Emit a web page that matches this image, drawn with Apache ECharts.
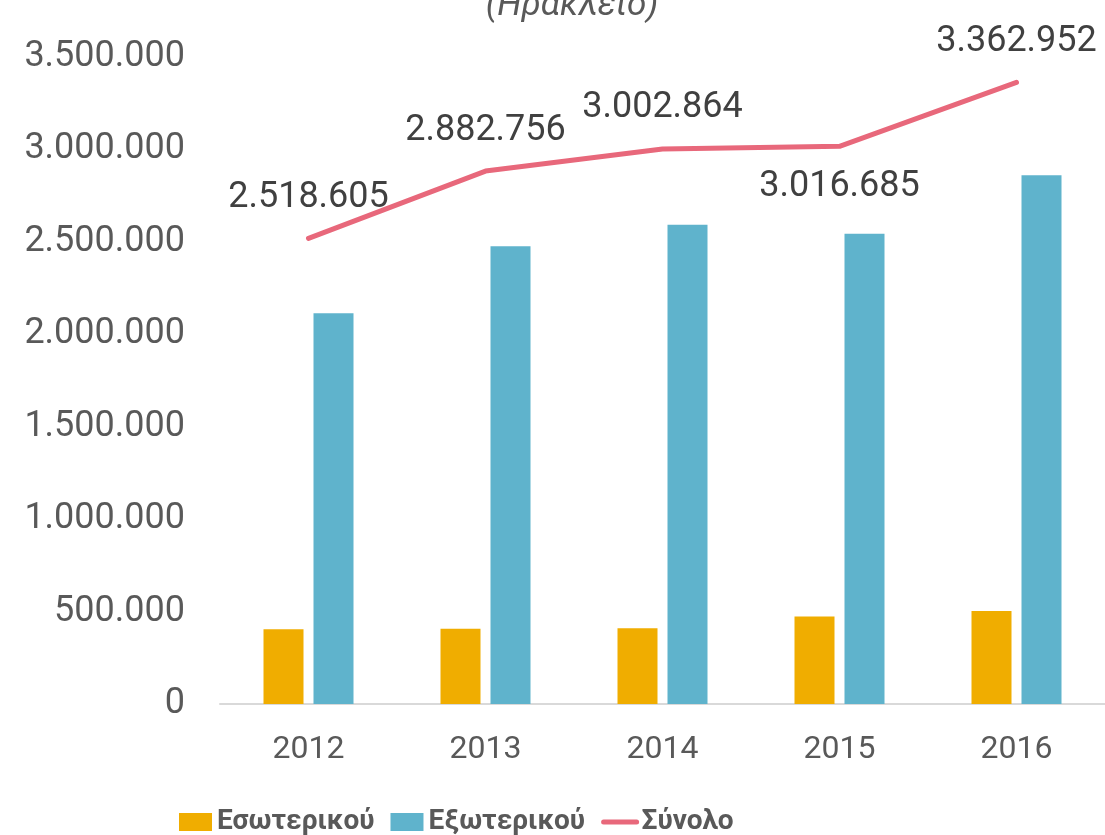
<!DOCTYPE html>
<html>
<head>
<meta charset="utf-8">
<script src="https://cdn.jsdelivr.net/npm/echarts@6/dist/echarts.min.js"></script>
<style>
  html, body { margin: 0; padding: 0; background: #fff; }
  #chart { width: 1105px; height: 835px; }
</style>
</head>
<body>
<div id="chart"></div>
<script>
  const years = ["2012", "2013", "2014", "2015", "2016"];
  const domestic = [405000, 407000, 410000, 473000, 503000];
  const foreign = [2113605, 2475756, 2592864, 2543685, 2859952];
  const total = [2518605, 2882756, 3002864, 3016685, 3362952];
  const seriesNames = ["Εσωτερικού", "Εξωτερικού", "Σύνολο"];

  // where Excel put each total label
  const totalLabelPos = ["top", "top", "top", "bottom", "top"];

  const fmt = (v) => String(v).replace(/\B(?=(\d{3})+(?!\d))/g, ".");

  const chart = echarts.init(document.getElementById("chart"));
  const option = {
    backgroundColor: "#fff",
    animation: false,
    title: {
      text: "(Ηράκλειο)",
      left: 567,
      textAlign: "center",
      top: -16,
      textStyle: {
        fontFamily: "Roboto",
        fontStyle: "italic",
        fontWeight: "normal",
        fontSize: 35,
        color: "#595959",
      },
    },
    legend: {
      left: 174,
      top: 803,
      itemWidth: 33,
      itemHeight: 18,
      itemGap: 16,
      textStyle: {
        fontFamily: "Roboto",
        fontWeight: "bold",
        fontSize: 28,
        color: "#595959",
      },
      data: [
        { name: seriesNames[0], icon: "rect" },
        { name: seriesNames[1], icon: "rect" },
        { name: seriesNames[2], itemStyle: { opacity: 0 }, lineStyle: { width: 5, cap: "round" } },
      ],
    },
    grid: {
      left: 220,
      right: 0,
      top: 57,
      bottom: 131,
    },
    xAxis: {
      type: "category",
      data: years,
      axisLine: { lineStyle: { color: "#d9d9d9", width: 2 } },
      axisTick: { show: false },
      axisLabel: {
        margin: 30,
        fontFamily: "Roboto",
        fontSize: 32,
        color: "#595959",
      },
    },
    yAxis: {
      type: "value",
      min: 0,
      max: 3500000,
      interval: 500000,
      splitLine: { show: false },
      axisLine: { show: false },
      axisTick: { show: false },
      axisLabel: {
        margin: 35,
        fontFamily: "Roboto",
        fontSize: 36,
        color: "#595959",
        formatter: fmt,
      },
    },
    series: [
      {
        name: seriesNames[0],
        type: "bar",
        data: domestic,
        barWidth: 40,
        barGap: "25%",
        itemStyle: { color: "#F0AD00" },
      },
      {
        name: seriesNames[1],
        type: "bar",
        data: foreign,
        barWidth: 40,
        itemStyle: { color: "#5FB3CC" },
      },
      {
        name: seriesNames[2],
        type: "line",
        data: total.map((v, i) => ({
          value: v,
          label: { position: totalLabelPos[i] },
        })),
        symbol: "circle",
        symbolSize: 1,
        lineStyle: { color: "#E8687B", width: 5, cap: "round" },
        itemStyle: { color: "#E8687B" },
        label: {
          show: true,
          distance: 22,
          fontFamily: "Roboto",
          fontSize: 36,
          color: "#404040",
          formatter: (p) => fmt(p.value),
        },
      },
    ],
  };
  chart.setOption(option);
</script>
</body>
</html>
